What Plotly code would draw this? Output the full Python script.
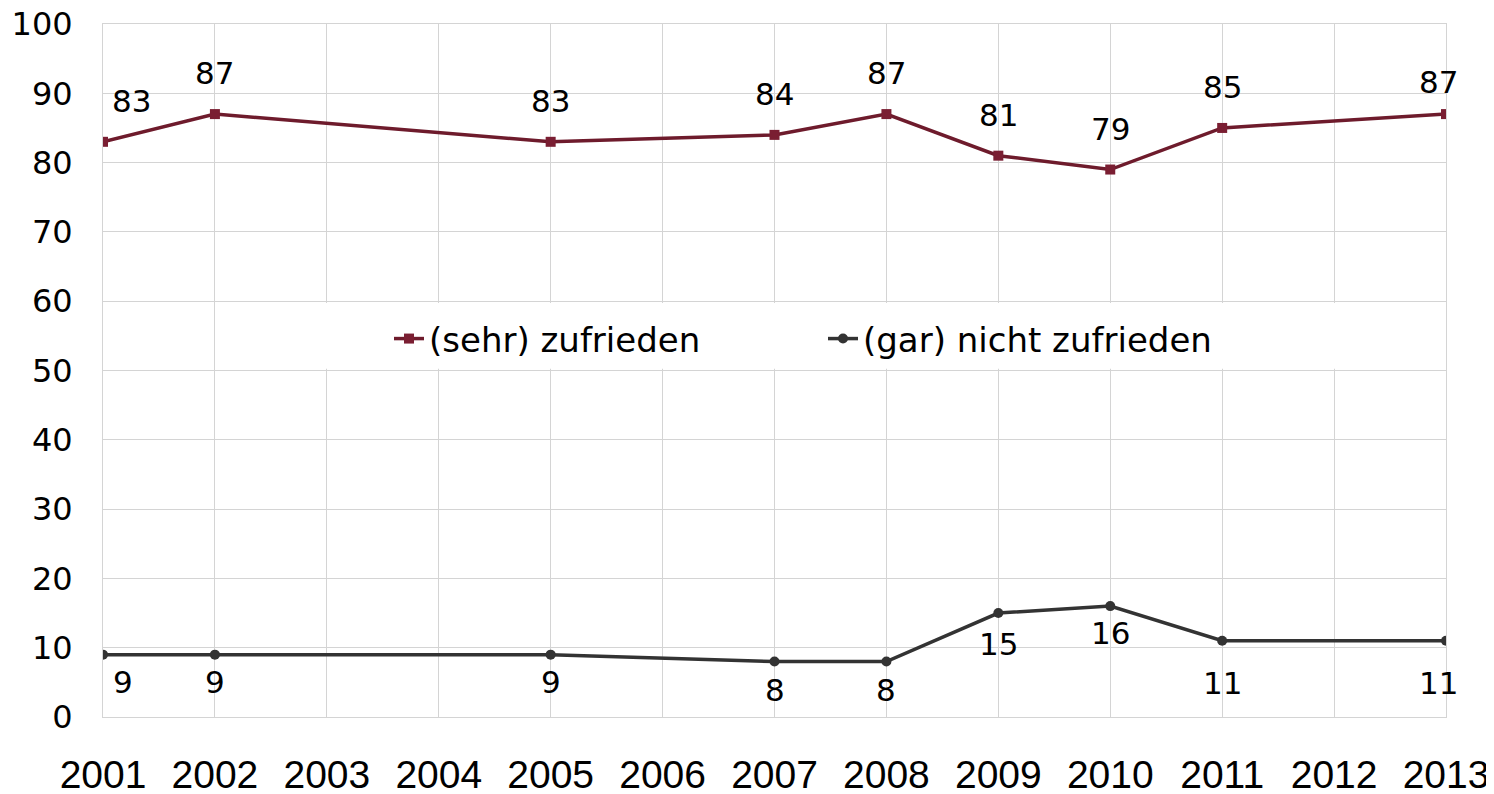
import plotly.graph_objects as go

years = [2001, 2002, 2005, 2007, 2008, 2009, 2010, 2011, 2013]
zufrieden = [83, 87, 83, 84, 87, 81, 79, 85, 87]
nicht_zufrieden = [9, 9, 9, 8, 8, 15, 16, 11, 11]
x_ticks = list(range(2001, 2014))
y_ticks = list(range(0, 101, 10))

RED = "#6e1b2c"
DARK = "#333333"
FONT = "DejaVu Sans, Verdana, sans-serif"
LABEL_FONT = dict(family=FONT, size=31, color="#000000")

fig = go.Figure()
fig.add_trace(go.Scatter(
    x=years, y=zufrieden, name="(sehr) zufrieden", mode="lines+markers",
    line=dict(color=RED, width=3.5),
    marker=dict(symbol="square", size=10, color="#7a1e32"),
))
fig.add_trace(go.Scatter(
    x=years, y=nicht_zufrieden, name="(gar) nicht zufrieden", mode="lines+markers",
    line=dict(color=DARK, width=3.5),
    marker=dict(symbol="circle", size=10, color=DARK),
))

n = len(years)
for i, (x, y) in enumerate(zip(years, zufrieden)):
    xs = 28 if i == 0 else (-8 if i == n - 1 else 0)
    ys = 32 if i == n - 1 else 41
    fig.add_annotation(x=x, y=y, text=str(y), showarrow=False, xshift=xs, yshift=ys,
                       font=LABEL_FONT)
bottom_shift = [-27, -27, -27, -28, -28, -31, -27, -42, -42]
for i, (x, y) in enumerate(zip(years, nicht_zufrieden)):
    xs = 20 if i == 0 else (-8 if i == n - 1 else 0)
    fig.add_annotation(x=x, y=y, text=str(y), showarrow=False, xshift=xs, yshift=bottom_shift[i],
                       font=LABEL_FONT)

# white box behind the legend, covering the gridlines
fig.add_shape(type="rect", xref="x", yref="y", x0=2002.88, x1=2012.88, y0=50.25, y1=59.75,
              fillcolor="white", line=dict(width=0), layer="between")

fig.update_layout(
    width=1487, height=787,
    margin=dict(l=95, r=49, t=16, b=78),
    paper_bgcolor="white", plot_bgcolor="white",
    showlegend=True,
    legend=dict(orientation="h", x=(388 - 102) / 1343, xanchor="left", y=0.5455, yanchor="middle",
                bgcolor="rgba(0,0,0,0)", font=dict(family=FONT, size=34, color="#000"),
                entrywidth=389, entrywidthmode="pixels"),
    xaxis=dict(range=[2001, 2013], tickmode="array", tickvals=x_ticks,
               ticktext=[str(t) for t in x_ticks], automargin=False,
               showgrid=True, gridcolor="#d4d4d4", gridwidth=1,
               showline=True, linecolor="#d4d4d4", mirror=True, zeroline=False,
               ticks="", ticklabelstandoff=23, ticklabeloverflow="allow",
               tickfont=dict(family="Liberation Sans, Arial, sans-serif", size=39, color="#000")),
    yaxis=dict(range=[0, 100], tickmode="array", tickvals=y_ticks, automargin=False,
               showgrid=True, gridcolor="#d4d4d4", gridwidth=1,
               showline=True, linecolor="#d4d4d4", mirror=True, zeroline=False,
               ticks="", ticklabelstandoff=23, ticklabeloverflow="allow",
               tickfont=dict(family=FONT, size=32, color="#000")),
)

fig.write_html("out.html")
